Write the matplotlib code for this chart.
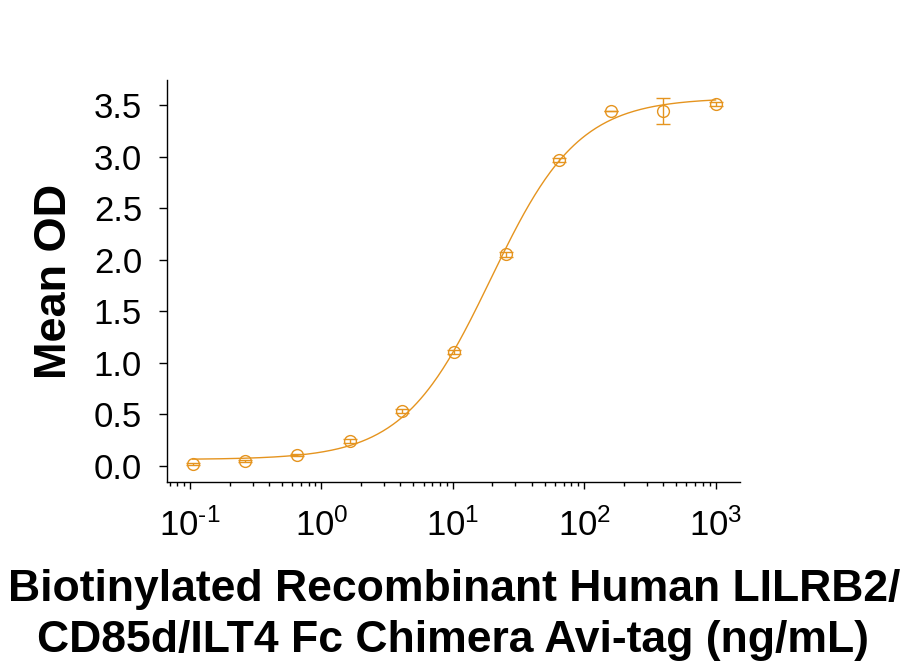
import numpy as np
import matplotlib
matplotlib.use("Agg")
import matplotlib.pyplot as plt
from matplotlib.ticker import FixedLocator, LogLocator, NullFormatter

plt.rcParams["font.family"] = ["Liberation Sans", "DejaVu Sans"]
plt.rcParams["mathtext.fontset"] = "custom"
plt.rcParams["mathtext.rm"] = "Liberation Sans"
plt.rcParams["mathtext.default"] = "regular"

ORANGE = "#E5941F"

# concentration (ng/mL), 2.5-fold dilutions
conc = [1000, 400, 160, 64, 25.6, 10.24, 4.096, 1.6384, 0.65536, 0.262144, 0.1048576]
mean_od = [3.51, 3.44, 3.44, 2.97, 2.05, 1.10, 0.53, 0.24, 0.10, 0.05, 0.013]
od_err = [0.02, 0.125, 0.0, 0.02, 0.02, 0.02, 0.02, 0.02, 0.01, 0.01, 0.01]

x_ticks = [0.1, 1, 10, 100, 1000]
x_ticklabels = [r"$10^{\text{-1}}$", r"$10^{0}$", r"$10^{1}$", r"$10^{2}$", r"$10^{3}$"]
y_ticks = [0.0, 0.5, 1.0, 1.5, 2.0, 2.5, 3.0, 3.5]
y_ticklabels = ["0.0", "0.5", "1.0", "1.5", "2.0", "2.5", "3.0", "3.5"]

# 4PL fit: bottom, top, EC50, hill slope
FIT_BOTTOM = 0.06
FIT_TOP = 3.57
FIT_EC50 = 19.5
FIT_HILL = 1.3


def four_pl(x):
    return FIT_BOTTOM + (FIT_TOP - FIT_BOTTOM) / (1 + (FIT_EC50 / x) ** FIT_HILL)


fig = plt.figure(figsize=(9.07, 6.66), dpi=100)
ax = fig.add_axes([167 / 907, 1 - 482 / 666, (740 - 167) / 907, (482 - 80) / 666])

xs = np.logspace(np.log10(min(conc)), np.log10(max(conc)), 400)
ax.plot(xs, four_pl(xs), color=ORANGE, lw=1.0)
ax.errorbar(conc, mean_od, yerr=od_err, fmt="o", mfc="none", mec=ORANGE,
            ecolor=ORANGE, ms=8.5, mew=1.0, elinewidth=1.0, capsize=5, capthick=1.0)

ax.set_xscale("log")
ax.set_xlim(10 ** -1.175, 10 ** 3.186)
ax.set_ylim(-0.158, 3.743)
ax.set_yticks(y_ticks)
ax.set_yticklabels(y_ticklabels)
ax.xaxis.set_major_locator(FixedLocator(x_ticks))
ax.set_xticklabels(x_ticklabels)
ax.xaxis.set_minor_locator(LogLocator(base=10, subs=np.arange(2, 10), numticks=20))
ax.xaxis.set_minor_formatter(NullFormatter())

for side in ("top", "right"):
    ax.spines[side].set_visible(False)
for side in ("left", "bottom"):
    ax.spines[side].set_linewidth(1.0)

ax.tick_params(axis="y", which="major", length=6, width=1, labelsize=25, pad=12)
ax.tick_params(axis="x", which="major", length=5, width=1, labelsize=25, pad=14)
ax.tick_params(axis="x", which="minor", length=3, width=1)

fig.text(54 / 907, 1 - 281 / 666, "Mean OD", rotation=90, ha="center", va="center",
         fontsize=32.5, fontweight="bold")
fig.text(454 / 907, 1 - 601 / 666, "Biotinylated Recombinant Human LILRB2/",
         ha="center", va="baseline", fontsize=32, fontweight="bold")
fig.text(453 / 907, 1 - 652 / 666, "CD85d/ILT4 Fc Chimera Avi-tag (ng/mL)",
         ha="center", va="baseline", fontsize=32, fontweight="bold")

fig.savefig("out.png", dpi=100)
